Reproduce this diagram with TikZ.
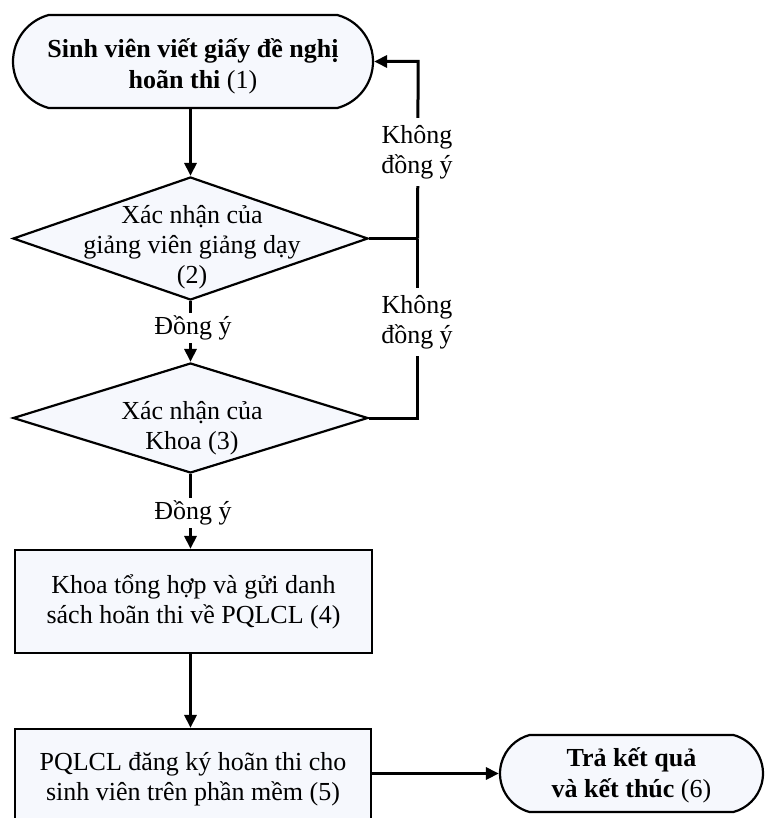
\documentclass[tikz,border=0pt]{standalone}
\usepackage{fontspec}
\setmainfont{Liberation Serif}
\usetikzlibrary{shapes.geometric,shapes.misc,arrows.meta}
\definecolor{shapefill}{RGB}{246,248,253}
\begin{document}
\begin{tikzpicture}[x=1pt,y=-1pt,
  every node/.style={font=\fontsize{26}{30}\selectfont},
  term/.style={draw, line width=2.2pt, fill=shapefill, rounded rectangle, rounded rectangle arc length=150, inner sep=0pt, align=center},
  dia/.style={draw, line width=2.2pt, fill=shapefill, diamond, inner sep=0pt},
  procbox/.style={draw, line width=2.2pt, fill=shapefill, rectangle, inner sep=0pt, align=center},
  txt/.style={align=center, inner sep=0pt},
  lbl/.style={fill=white, align=center, inner sep=3pt},
  conn/.style={line width=3pt},
  arr/.style={line width=3pt, -{Triangle[length=13pt,width=12pt]}}
]
\useasboundingbox (0,0) rectangle (765,818);
\clip (0,0) rectangle (765,818);
\fill[white] (0,0) rectangle (765,818);

% shapes
\node[term, minimum width=360pt, minimum height=93pt] (s1) at (193,61.5) {};
\node[txt, font=\fontsize{26}{31}\selectfont] (t1) at (193,66) {\textbf{Sinh viên viết giấy đề nghị}\\\textbf{hoãn thi} (1)};

\node[dia, minimum width=355pt, minimum height=123pt] (d2) at (190.5,238.5) {};
\node[txt] (t2) at (192,247) {Xác nhận của\\giảng viên giảng dạy\\(2)};

\node[dia, minimum width=355pt, minimum height=110pt] (d3) at (190.5,418) {};
\node[txt] (t3) at (192,428) {Xác nhận của\\Khoa (3)};

\node[procbox, minimum width=357pt, minimum height=103pt] (b4) at (193.5,601.5) {};
\node[txt] (t4) at (193.5,602) {Khoa tổng hợp và gửi danh\\sách hoãn thi về PQLCL (4)};

\node[procbox, minimum width=356pt, minimum height=100pt] (b5) at (193,779) {};
\node[txt] (t5) at (193,779) {PQLCL đăng ký hoãn thi cho\\sinh viên trên phần mềm (5)};

\node[term, minimum width=263pt, minimum height=77pt] (e6) at (631.5,773.5) {};
\node[txt, font=\fontsize{26}{31}\selectfont] (t6) at (631.5,775) {\textbf{Trả kết quả}\\\textbf{và kết thúc} (6)};

% coordinates for the feedback line
\path (s1.east) -- ++(44,0) coordinate (j1);
\path (d2.east) -- ++(48.5,0) coordinate (j2);
\path (d3.east) -- ++(48.5,0) coordinate (j3);

% main flow
\draw[arr] (s1.south -| d2.north) -- (d2.north);
\draw[arr] (d2.south) -- (d3.north);
\draw[arr] (d3.south) -- (b4.north -| d3.south);
\draw[arr] (b4.south -| d3.south) -- (b5.north -| d3.south);
\draw[arr] (b5.east |- e6.west) -- (e6.west);

% feedback
\draw[conn] (d3.east) -- (j3) -- (j2);
\draw[conn] (d2.east) -- (j2);
\draw[arr] (j2) -- (j1 |- s1.east) -- (s1.east);

% labels
\node[lbl] (y2) at (193,328) {Đồng ý};
\node[lbl] (y3) at (193,513) {Đồng ý};
\node[lbl, inner sep=7pt] (n1) at (417,152) {Không\\đồng ý};
\node[lbl, inner sep=7pt] (n2) at (417,322) {Không\\đồng ý};
\end{tikzpicture}
\end{document}
